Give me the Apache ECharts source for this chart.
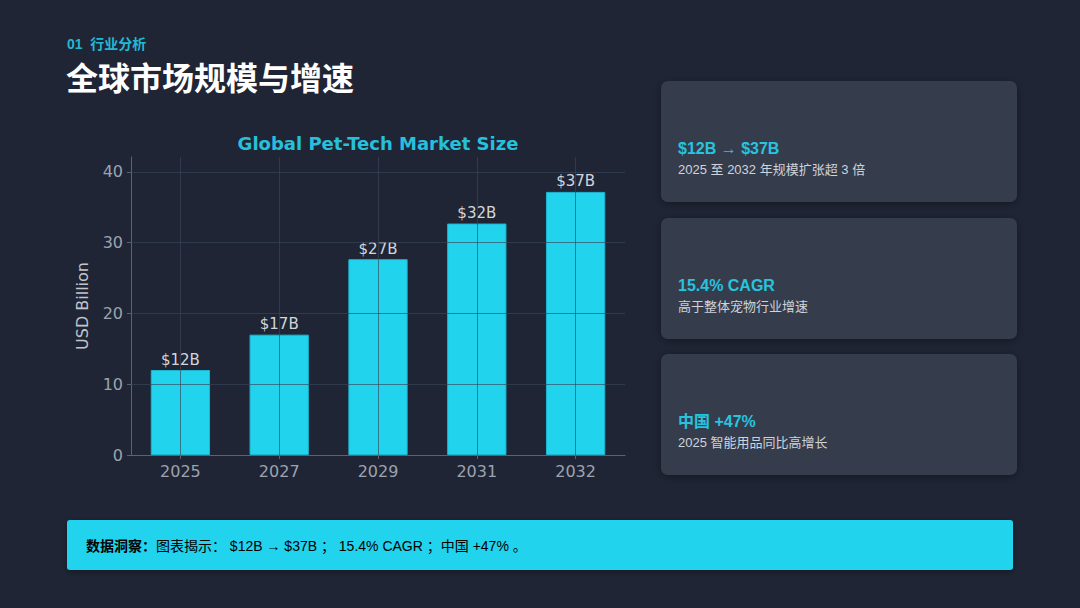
<!DOCTYPE html>
<html>
<head>
<meta charset="utf-8">
<script src="https://cdn.jsdelivr.net/npm/echarts@6/dist/echarts.min.js"></script>
<style>
html,body{margin:0;padding:0;background:#1f2535;}
#c{width:1080px;height:608px;}
</style>
</head>
<body>
<div id="c"></div>
<script>
// ---- data ----
const years = ['2025', '2027', '2029', '2031', '2032'];
const marketSize = [12.0, 17.0, 27.66, 32.7, 37.17];
const valueLabels = ['$12B', '$17B', '$27B', '$32B', '$37B'];
const yTicks = [0, 10, 20, 30, 40];
const gridValues = [10, 20, 30, 40];

const sectionLabel = '01  行业分析';
const pageTitle = '全球市场规模与增速';
const chartTitle = 'Global Pet-Tech Market Size';
const yAxisTitle = 'USD Billion';
const cardHeads = ['$12B → $37B', '15.4% CAGR', '中国 +47%'];
const cardSubs = ['2025 至 2032 年规模扩张超 3 倍', '高于整体宠物行业增速', '2025 智能用品同比高增长'];
const insightLead = '数据洞察：';
const insightBody = '图表揭示： $12B → $37B ； 15.4% CAGR ；中国 +47% 。';

const uiFont = '"Liberation Sans", "Noto Sans CJK SC", sans-serif';
const mplFont = '"DejaVu Sans", sans-serif';
const cyan = '#22d3ee';
const gridLineColor = 'rgba(58,70,90,0.66)';

const chart = echarts.init(document.getElementById('c'), null, {renderer: 'svg'});

const cardTops = [81, 218, 354];
const graphics = [
  {type: 'text', left: 67, top: 37, style: {text: sectionLabel, fill: '#22b8d4', font: 'bold 14px ' + uiFont}},
  {type: 'text', left: 66, top: 63, style: {text: pageTitle, fill: '#ffffff', font: 'bold 32px ' + uiFont}},
  {type: 'text', x: 378, y: 143, style: {text: chartTitle, fill: '#27c0dc', font: 'bold 18px ' + mplFont, textAlign: 'center', textVerticalAlign: 'middle'}},
  {type: 'rect', shape: {x: 67, y: 520, width: 946, height: 50, r: 3}, style: {fill: cyan, shadowBlur: 6, shadowColor: 'rgba(0,0,0,0.35)', shadowOffsetY: 2}},
  {type: 'text', left: 86, top: 539, style: {
    text: '{b|' + insightLead + '}{r|' + insightBody + '}',
    rich: {
      b: {fontWeight: 'bold', fontSize: 14, fontFamily: uiFont, color: '#1c2533'},
      r: {fontSize: 14, fontFamily: uiFont, color: '#1c2533'}
    }
  }}
];
cardTops.forEach((t, i) => {
  graphics.push({type: 'rect', shape: {x: 661, y: t, width: 356, height: 121, r: 7},
    style: {fill: '#363d4d', shadowBlur: 8, shadowColor: 'rgba(0,0,0,0.35)', shadowOffsetY: 2}});
  graphics.push({type: 'text', left: 678, top: t + 59, style: {text: cardHeads[i], fill: '#27c3df', font: 'bold 16px ' + uiFont}});
  graphics.push({type: 'text', left: 678, top: t + 82, style: {text: cardSubs[i], fill: '#cfd3d9', font: '13px ' + uiFont}});
});

const markData = gridValues.map(v => ({yAxis: v})).concat(years.map(y => ({xAxis: y})));

chart.setOption({
  backgroundColor: '#1f2535',
  animation: false,
  graphic: graphics,
  grid: {left: 131, right: 455, top: 157, bottom: 153, containLabel: false},
  xAxis: {
    type: 'category',
    data: years,
    boundaryGap: true,
    axisLine: {show: true, lineStyle: {color: '#5a6372', width: 1}},
    axisTick: {show: true, alignWithLabel: true, length: 4, lineStyle: {color: '#5a6372'}},
    axisLabel: {color: '#9ca3af', fontSize: 16, fontFamily: mplFont, margin: 8},
    splitLine: {show: false}
  },
  yAxis: {
    type: 'value',
    min: 0,
    max: 42.1,
    interval: 10,
    name: yAxisTitle,
    nameLocation: 'middle',
    nameGap: 41,
    nameRotate: 90,
    nameTextStyle: {color: '#c0c5cc', fontSize: 16, fontFamily: mplFont},
    axisLine: {show: true, lineStyle: {color: '#5a6372', width: 1}},
    axisTick: {show: true, length: 4, customValues: yTicks, lineStyle: {color: '#5a6372'}},
    axisLabel: {color: '#9ca3af', fontSize: 16, fontFamily: mplFont, margin: 8, customValues: yTicks},
    splitLine: {show: false}
  },
  series: [{
    type: 'bar',
    data: marketSize,
    barWidth: '60%',
    itemStyle: {color: cyan, borderColor: '#1eb6cf', borderWidth: 1},
    label: {
      show: true, position: 'top', distance: 3,
      color: '#d1d5db', fontSize: 15, fontFamily: mplFont,
      formatter: p => valueLabels[p.dataIndex]
    },
    markLine: {
      silent: true,
      symbol: 'none',
      z: 10,
      label: {show: false},
      lineStyle: {color: gridLineColor, type: 'solid', width: 1},
      data: markData
    }
  }]
});
</script>
</body>
</html>
